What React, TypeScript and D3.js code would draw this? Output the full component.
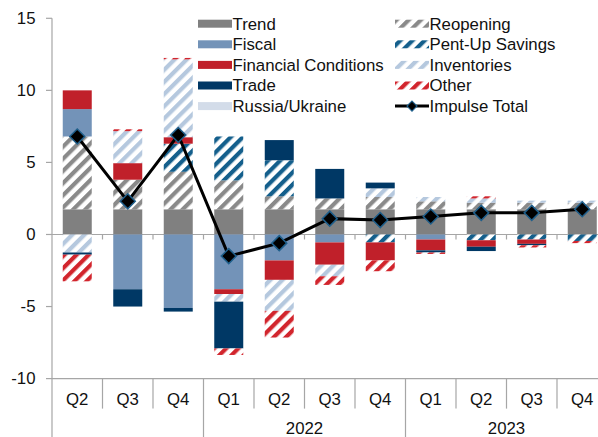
import React from "react";
import * as d3 from "d3";

const categories = ["Q2", "Q3", "Q4", "Q1", "Q2", "Q3", "Q4", "Q1", "Q2", "Q3", "Q4"];
const yearLabels = ["", "2022", "2023"];
const yearSpans = [3, 4, 4];
const yTicks = [-10, -5, 0, 5, 10, 15];

const trend = [1.75, 1.75, 1.75, 1.75, 1.75, 1.75, 1.75, 1.75, 1.75, 1.75, 1.75];
const reopening = [5.05, 2.05, 2.6, 2.0, 0.9, 0.75, 0.85, 0.55, 0.45, 0.45, 0.45];
const pentUp = [0, 0, 1.95, 3.05, 2.5, 0, -0.55, 0, -0.4, -0.35, -0.45];
const fiscal = [1.9, -3.8, -5.1, -3.8, -1.8, -0.55, 0, -0.35, 0, 0, 0];
const financial = [1.3, 1.15, 0.45, -0.33, -1.35, -1.55, -1.25, -0.75, -0.45, -0.3, 0];
const russiaUkraine = [0, 0, 0, 0, 0, 0, 0, 0, 0, 0, 0];
const inventories = [-1.25, 2.22, 5.4, -0.53, -2.15, -0.8, 0.6, 0.3, 0.3, 0.15, 0.15];
const trade = [-0.15, -1.2, -0.25, -3.25, 1.4, 2.05, 0.4, -0.15, -0.3, -0.1, 0];
const other = [-1.85, 0.13, 0.1, -0.45, -1.85, -0.6, -0.75, -0.1, 0.15, -0.15, -0.15];
const impulseTotal = [6.8, 2.3, 6.9, -1.5, -0.6, 1.1, 1.0, 1.25, 1.5, 1.5, 1.75];

type Series = { key: string; label: string; values: number[]; color: string; hatch: boolean };

const series: Series[] = [
  { key: "trend", label: "Trend", values: trend, color: "#808080", hatch: false },
  { key: "reopening", label: "Reopening", values: reopening, color: "#8a8a8a", hatch: true },
  { key: "pentUp", label: "Pent-Up Savings", values: pentUp, color: "#145f8c", hatch: true },
  { key: "fiscal", label: "Fiscal", values: fiscal, color: "#7393b8", hatch: false },
  { key: "financial", label: "Financial Conditions", values: financial, color: "#c0202a", hatch: false },
  { key: "russia", label: "Russia/Ukraine", values: russiaUkraine, color: "#d3dce9", hatch: false },
  { key: "inventories", label: "Inventories", values: inventories, color: "#b5c8de", hatch: true },
  { key: "trade", label: "Trade", values: trade, color: "#003865", hatch: false },
  { key: "other", label: "Other", values: other, color: "#d2252d", hatch: true },
];

const legendLeft = ["trend", "fiscal", "financial", "trade", "russia"];
const legendRight = ["reopening", "pentUp", "inventories", "other"];

const W = 598;
const H = 437;
const axisX = 52;
const step = 50.5;
const barW = 29;
const FONT = "Arial, 'Liberation Sans', sans-serif";
const FS = 16.8;

export default function App() {
  const idx = categories.map((_, i) => i);
  const x = d3.scaleBand<number>().domain(idx).range([axisX, axisX + step * categories.length]).padding(0);
  const y = d3.scaleLinear().domain([-10, 15]).range([378.6, 18.3]);

  const rows = idx.map((i) => {
    const r: Record<string, number> = {};
    series.forEach((s) => (r[s.key] = s.values[i]));
    return r;
  });
  const stacked = d3
    .stack<Record<string, number>>()
    .keys(series.map((s) => s.key))
    .offset(d3.stackOffsetDiverging)(rows);

  const byKey: Record<string, Series> = {};
  series.forEach((s) => (byKey[s.key] = s));

  const cx = (i: number) => (x(i) as number) + x.bandwidth() / 2;
  const line = d3
    .line<number>()
    .x((_, i) => cx(i))
    .y((d) => y(d));

  const fillOf = (s: Series) => (s.hatch ? `url(#pat-${s.key})` : s.color);

  const axisColor = "#a6a6a6";
  const bottomY = y(-10);

  // year group boundaries
  const groupBounds: number[] = [];
  let acc = 0;
  yearSpans.forEach((n) => {
    groupBounds.push(acc);
    acc += n;
  });

  const legendRowY = (k: number) => 23.7 + k * 20.6;

  const diamond = (px: number, py: number, r: number) =>
    `M${px},${py - r}L${px + r},${py}L${px},${py + r}L${px - r},${py}Z`;

  return (
    <svg
      width={W}
      height={H}
      style={{ position: "absolute", left: 0, top: 0, background: "#fff" }}
      fontFamily={FONT}
    >
      <defs>
        {series
          .filter((s) => s.hatch)
          .map((s) => (
            <pattern
              key={s.key}
              id={`pat-${s.key}`}
              patternUnits="userSpaceOnUse"
              width={8.6}
              height={8.6}
              patternTransform="rotate(45)"
            >
              <rect x={0} y={0} width={8.6} height={8.6} fill="#fff" />
              <rect x={0} y={0} width={4.2} height={8.6} fill={s.color} />
            </pattern>
          ))}
      </defs>

      {/* y axis */}
      <line x1={axisX} x2={axisX} y1={y(15)} y2={H} stroke={axisColor} strokeWidth={1.2} />
      {yTicks.map((t) => (
        <g key={t}>
          <line x1={axisX - 6} x2={axisX} y1={y(t)} y2={y(t)} stroke={axisColor} strokeWidth={1.2} />
          <text x={35.5} y={y(t)} dy="0.35em" textAnchor="end" fontSize={FS} fill="#111">
            {t}
          </text>
        </g>
      ))}

      {/* zero line with ticks */}
      <line x1={axisX} x2={W} y1={y(0)} y2={y(0)} stroke={axisColor} strokeWidth={1.2} />
      {idx.slice(1).map((i) => (
        <line key={i} x1={x(i)} x2={x(i)} y1={y(0)} y2={y(0) + 5} stroke={axisColor} strokeWidth={1.2} />
      ))}

      {/* bottom category axis */}
      <line x1={axisX} x2={W} y1={bottomY} y2={bottomY} stroke={axisColor} strokeWidth={1.2} />
      {idx.slice(1).map((i) => {
        const isGroup = groupBounds.includes(i);
        return (
          <line
            key={i}
            x1={x(i)}
            x2={x(i)}
            y1={bottomY}
            y2={isGroup ? H : bottomY + 30}
            stroke={axisColor}
            strokeWidth={1.2}
          />
        );
      })}
      {categories.map((c, i) => (
        <text key={i} x={cx(i)} y={399} dy="0.35em" textAnchor="middle" fontSize={FS} fill="#111">
          {c}
        </text>
      ))}
      {yearLabels.map((yl, g) => {
        const start = groupBounds[g];
        const mid = axisX + step * (start + yearSpans[g] / 2);
        return (
          <text key={g} x={mid} y={428} dy="0.35em" textAnchor="middle" fontSize={FS} fill="#111">
            {yl}
          </text>
        );
      })}

      {/* bars */}
      {stacked.map((layer) => {
        const s = byKey[layer.key];
        return (
          <g key={layer.key}>
            {layer.map((d, i) => {
              const y0 = y(d[0]);
              const y1 = y(d[1]);
              const h = Math.abs(y0 - y1);
              if (h < 0.01) return null;
              return (
                <rect
                  key={i}
                  x={cx(i) - barW / 2}
                  y={Math.min(y0, y1)}
                  width={barW}
                  height={h}
                  fill={fillOf(s)}
                />
              );
            })}
          </g>
        );
      })}

      {/* impulse line */}
      <path d={line(impulseTotal) || ""} fill="none" stroke="#000" strokeWidth={3} />
      {impulseTotal.map((v, i) => (
        <path key={i} d={diamond(cx(i), y(v), 7.5)} fill="#000" stroke="#1f5f8b" strokeWidth={1.5} />
      ))}

      {/* legend */}
      {legendLeft.map((k, r) => {
        const s = byKey[k];
        const ly = legendRowY(r);
        return (
          <g key={k}>
            <rect x={198} y={ly - 4} width={34} height={8} fill={fillOf(s)} />
            <text x={232.5} y={ly} dy="0.35em" fontSize={FS} fill="#111">
              {s.label}
            </text>
          </g>
        );
      })}
      {legendRight.map((k, r) => {
        const s = byKey[k];
        const ly = legendRowY(r);
        return (
          <g key={k}>
            <rect x={395} y={ly - 4} width={34} height={8} fill={fillOf(s)} />
            <text x={429.5} y={ly} dy="0.35em" fontSize={FS} fill="#111">
              {s.label}
            </text>
          </g>
        );
      })}
      <g>
        <line x1={395} x2={429} y1={legendRowY(4)} y2={legendRowY(4)} stroke="#000" strokeWidth={3} />
        <path d={diamond(412, legendRowY(4), 5)} fill="#000" stroke="#1f5f8b" strokeWidth={1.2} />
        <text x={429.5} y={legendRowY(4)} dy="0.35em" fontSize={FS} fill="#111">
          Impulse Total
        </text>
      </g>
    </svg>
  );
}
